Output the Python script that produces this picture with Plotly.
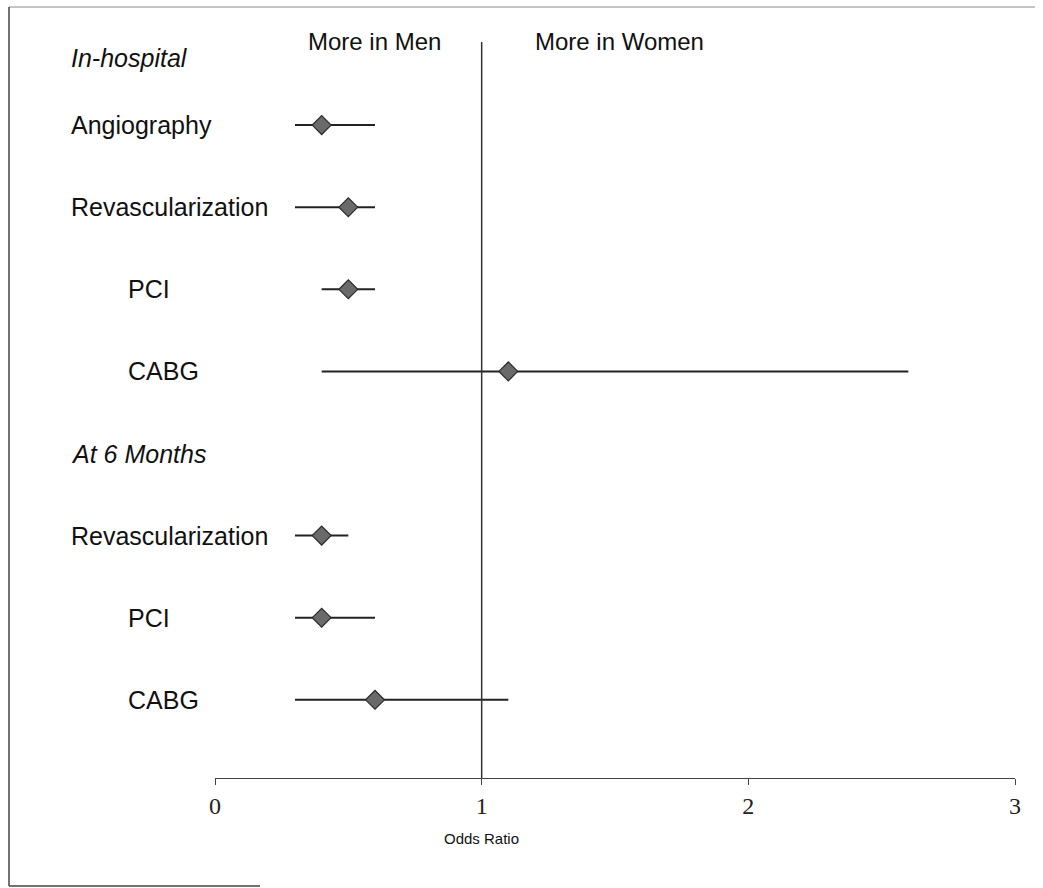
import plotly.graph_objects as go

# Data
row_labels = ["Angiography", "Revascularization", "PCI", "CABG",
              "Revascularization", "PCI", "CABG"]
row_pos = [1, 2, 3, 4, 6, 7, 8]
indent = [False, False, True, True, False, True, True]
odds_ratio = [0.4, 0.5, 0.5, 1.1, 0.4, 0.4, 0.6]
ci_low = [0.3, 0.3, 0.4, 0.4, 0.3, 0.3, 0.3]
ci_high = [0.6, 0.6, 0.6, 2.6, 0.5, 0.6, 1.1]
group_labels = ["In-hospital", "At 6 Months"]
group_pos = [0.18, 5.0]
x_ticks = [0, 1, 2, 3]

# pixel helpers (plot area: x 215..1015, y 20..778)
L, R, T, B = 215, 1015, 20, 778
W, H = 1043, 888
def px(xp):
    return (xp - L) / (R - L)
def py(yp):
    return (B - yp) / (B - T)

fig = go.Figure()
fig.add_trace(go.Scatter(
    x=odds_ratio, y=row_pos, mode="markers",
    marker=dict(symbol="diamond", size=14.5, color="#6a6a6a",
                line=dict(color="#2a2a2a", width=1.2)),
    error_x=dict(type="data", symmetric=False,
                 array=[h - o for h, o in zip(ci_high, odds_ratio)],
                 arrayminus=[o - l for o, l in zip(odds_ratio, ci_low)],
                 width=0, thickness=2, color="#222222"),
    showlegend=False, hoverinfo="skip"))

font_sans = "Arial, Liberation Sans, sans-serif"
FS = 25
annotations = []
for lab, pos, ind in zip(row_labels, row_pos, indent):
    annotations.append(dict(text=lab, x=px(126 if ind else 69), xref="paper",
                            y=pos, yref="y", xanchor="left", yanchor="middle",
                            showarrow=False,
                            font=dict(family=font_sans, size=FS, color="#111111")))
for lab, pos in zip(group_labels, group_pos):
    annotations.append(dict(text="<i>" + lab + "</i>", x=px(69), xref="paper",
                            y=pos, yref="y", xanchor="left", yanchor="middle",
                            showarrow=False,
                            font=dict(family=font_sans, size=FS, color="#111111")))
annotations.append(dict(text="More in Men", x=px(306), xref="paper", y=py(41), yref="paper",
                        xanchor="left", yanchor="middle", showarrow=False,
                        font=dict(family=font_sans, size=FS - 1, color="#111111")))
annotations.append(dict(text="More in Women", x=px(533), xref="paper", y=py(42), yref="paper",
                        xanchor="left", yanchor="middle", showarrow=False,
                        font=dict(family=font_sans, size=FS - 1, color="#111111")))
annotations.append(dict(text="Odds Ratio", x=1, xref="x", y=py(838), yref="paper",
                        xanchor="center", yanchor="middle", showarrow=False,
                        font=dict(family=font_sans, size=15, color="#111111")))

shapes = [
    dict(type="line", xref="x", yref="paper", x0=1, x1=1, y0=0, y1=py(42),
         line=dict(color="#333333", width=1.5)),
    # frame
    dict(type="line", xref="paper", yref="paper", x0=px(9), x1=px(1035), y0=py(7), y1=py(7),
         line=dict(color="#888888", width=1)),
    dict(type="line", xref="paper", yref="paper", x0=px(9), x1=px(9), y0=py(7), y1=py(886),
         line=dict(color="#444444", width=1.5)),
    dict(type="line", xref="paper", yref="paper", x0=px(9), x1=px(260), y0=py(886), y1=py(886),
         line=dict(color="#444444", width=1.5)),
]

fig.update_layout(
    width=W, height=H,
    margin=dict(l=L, r=W - R, t=T, b=H - B),
    paper_bgcolor="white", plot_bgcolor="white",
    annotations=annotations, shapes=shapes,
    xaxis=dict(range=[0, 3], tickvals=x_ticks, ticktext=[str(t) for t in x_ticks],
               showgrid=False, zeroline=False, showline=True, linecolor="#444444",
               linewidth=1, ticks="outside", ticklen=6, tickcolor="#444444",
               tickfont=dict(family="Times New Roman, Liberation Serif, serif",
                             size=24, color="#222222"),
               fixedrange=True),
    yaxis=dict(range=[(B - 43) / 82.1, (T - 43) / 82.1], showgrid=False,
               zeroline=False, showline=False, showticklabels=False, ticks="",
               fixedrange=True),
)

fig.write_html("out.html")
